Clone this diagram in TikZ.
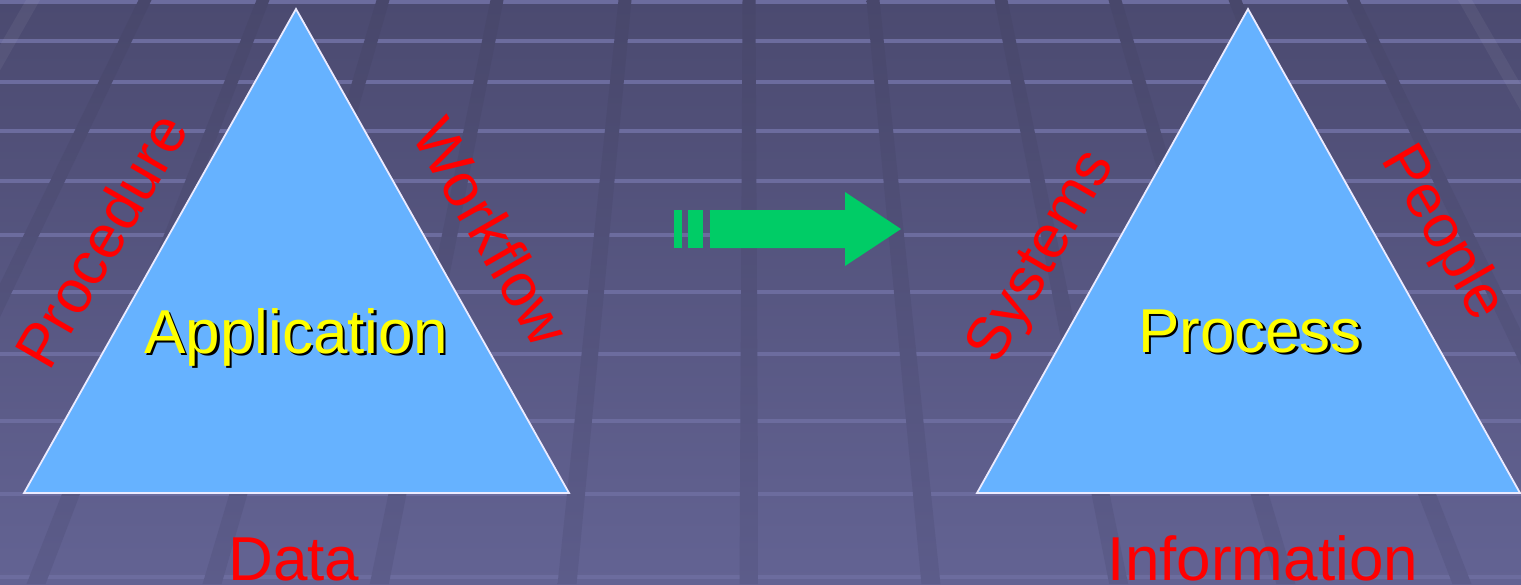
\documentclass[tikz,border=0pt]{standalone}
\usepackage{fontspec}
\setmainfont{Liberation Sans}
\usetikzlibrary{positioning}
\definecolor{bgTop}{HTML}{4B4A70}
\definecolor{bgBot}{HTML}{636393}
\definecolor{bandTop}{HTML}{48476B}
\definecolor{bandBot}{HTML}{5C5C8A}
\definecolor{gridLine}{HTML}{6C6C9E}
\definecolor{triBlue}{HTML}{66B2FF}
\definecolor{arrowGreen}{HTML}{00CC66}
\definecolor{labelRed}{HTML}{FF0000}
\definecolor{titleYellow}{HTML}{FFFF00}

\begin{document}
\begin{tikzpicture}[
  x=1pt, y=-1pt,
  hline/.style={gridLine, line width=3.5pt},
  tri/.style={fill=triBlue, draw=white!92!blue, line width=1.8pt, line join=miter},
  title/.style={font=\fontsize{62}{70}\selectfont, anchor=base, inner sep=0pt},
  shadowtext/.style={title, text=black},
  maintext/.style={title, text=titleYellow},
  sidelabel/.style={font=\fontsize{61}{68}\selectfont, text=labelRed, inner sep=0pt},
  baselabel/.style={font=\fontsize{62}{70}\selectfont, text=labelRed, anchor=base, inner sep=0pt},
  bigarrow/.style={fill=arrowGreen, draw=none},
]
\useasboundingbox (0,0) rectangle (1521,584);

% background grid
\shade[top color=bgTop, bottom color=bgBot] (0,0) rectangle (1521,584);
\foreach \y in {2,41,82,131,181,235,292,354,421,494,577}
  \draw[hline] (0,\y) -- (1521,\y);
\foreach \d in {-604,-486,-366,-252,-124,0,124,252,366,486,604}
  \shade[top color=bandTop, bottom color=bandBot]
    ({749+\d-6.5},0) -- ({749+\d+6.5},0) -- ({749+\d*1.467+9.5},584) -- ({749+\d*1.467-9.5},584) -- cycle;
\foreach \d in {-716,716}
  \fill[white, opacity=0.05]
    ({749+\d-7},0) -- ({749+\d+7},0) -- ({749+\d*1.467+10},584) -- ({749+\d*1.467-10},584) -- cycle;

% triangles
\coordinate (appTop) at (296,9);
\coordinate (appLeft) at (24,493);
\coordinate (appRight) at (569,493);
\draw[tri] (appTop) -- (appRight) -- (appLeft) -- cycle;

\coordinate (procTop) at (1248,9);
\coordinate (procLeft) at (977,493);
\coordinate (procRight) at (1520,493);
\draw[tri] (procTop) -- (procRight) -- (procLeft) -- cycle;

% titles with shadow
\node[shadowtext] (appShadow) at (298.5,355.5) {Application};
\node[maintext] (app) at (296,353) {Application};
\node[shadowtext] (procShadow) at (1252.5,354.5) {Process};
\node[maintext] (proc) at (1250,352) {Process};

% side labels
\node[sidelabel, rotate=60] (procedure) at (101,240) {Procedure};
\node[sidelabel, rotate=-60] (workflow) at (492,232) {Workflow};
\node[sidelabel, rotate=60] (systems) at (1043,258) {Systems};
\node[sidelabel, rotate=-60] (people) at (1442,234) {People};

% base labels
\node[baselabel] (data) at (294,580) {Data};
\node[baselabel] (info) at (1263,580) {Information};

% arrow
\fill[bigarrow] (674,210) rectangle (682,248);
\fill[bigarrow] (688,210) rectangle (703,248);
\fill[bigarrow] (710,210) -- (845,210) -- (845,192) -- (901,229) -- (845,266) -- (845,248) -- (710,248) -- cycle;
\end{tikzpicture}
\end{document}
